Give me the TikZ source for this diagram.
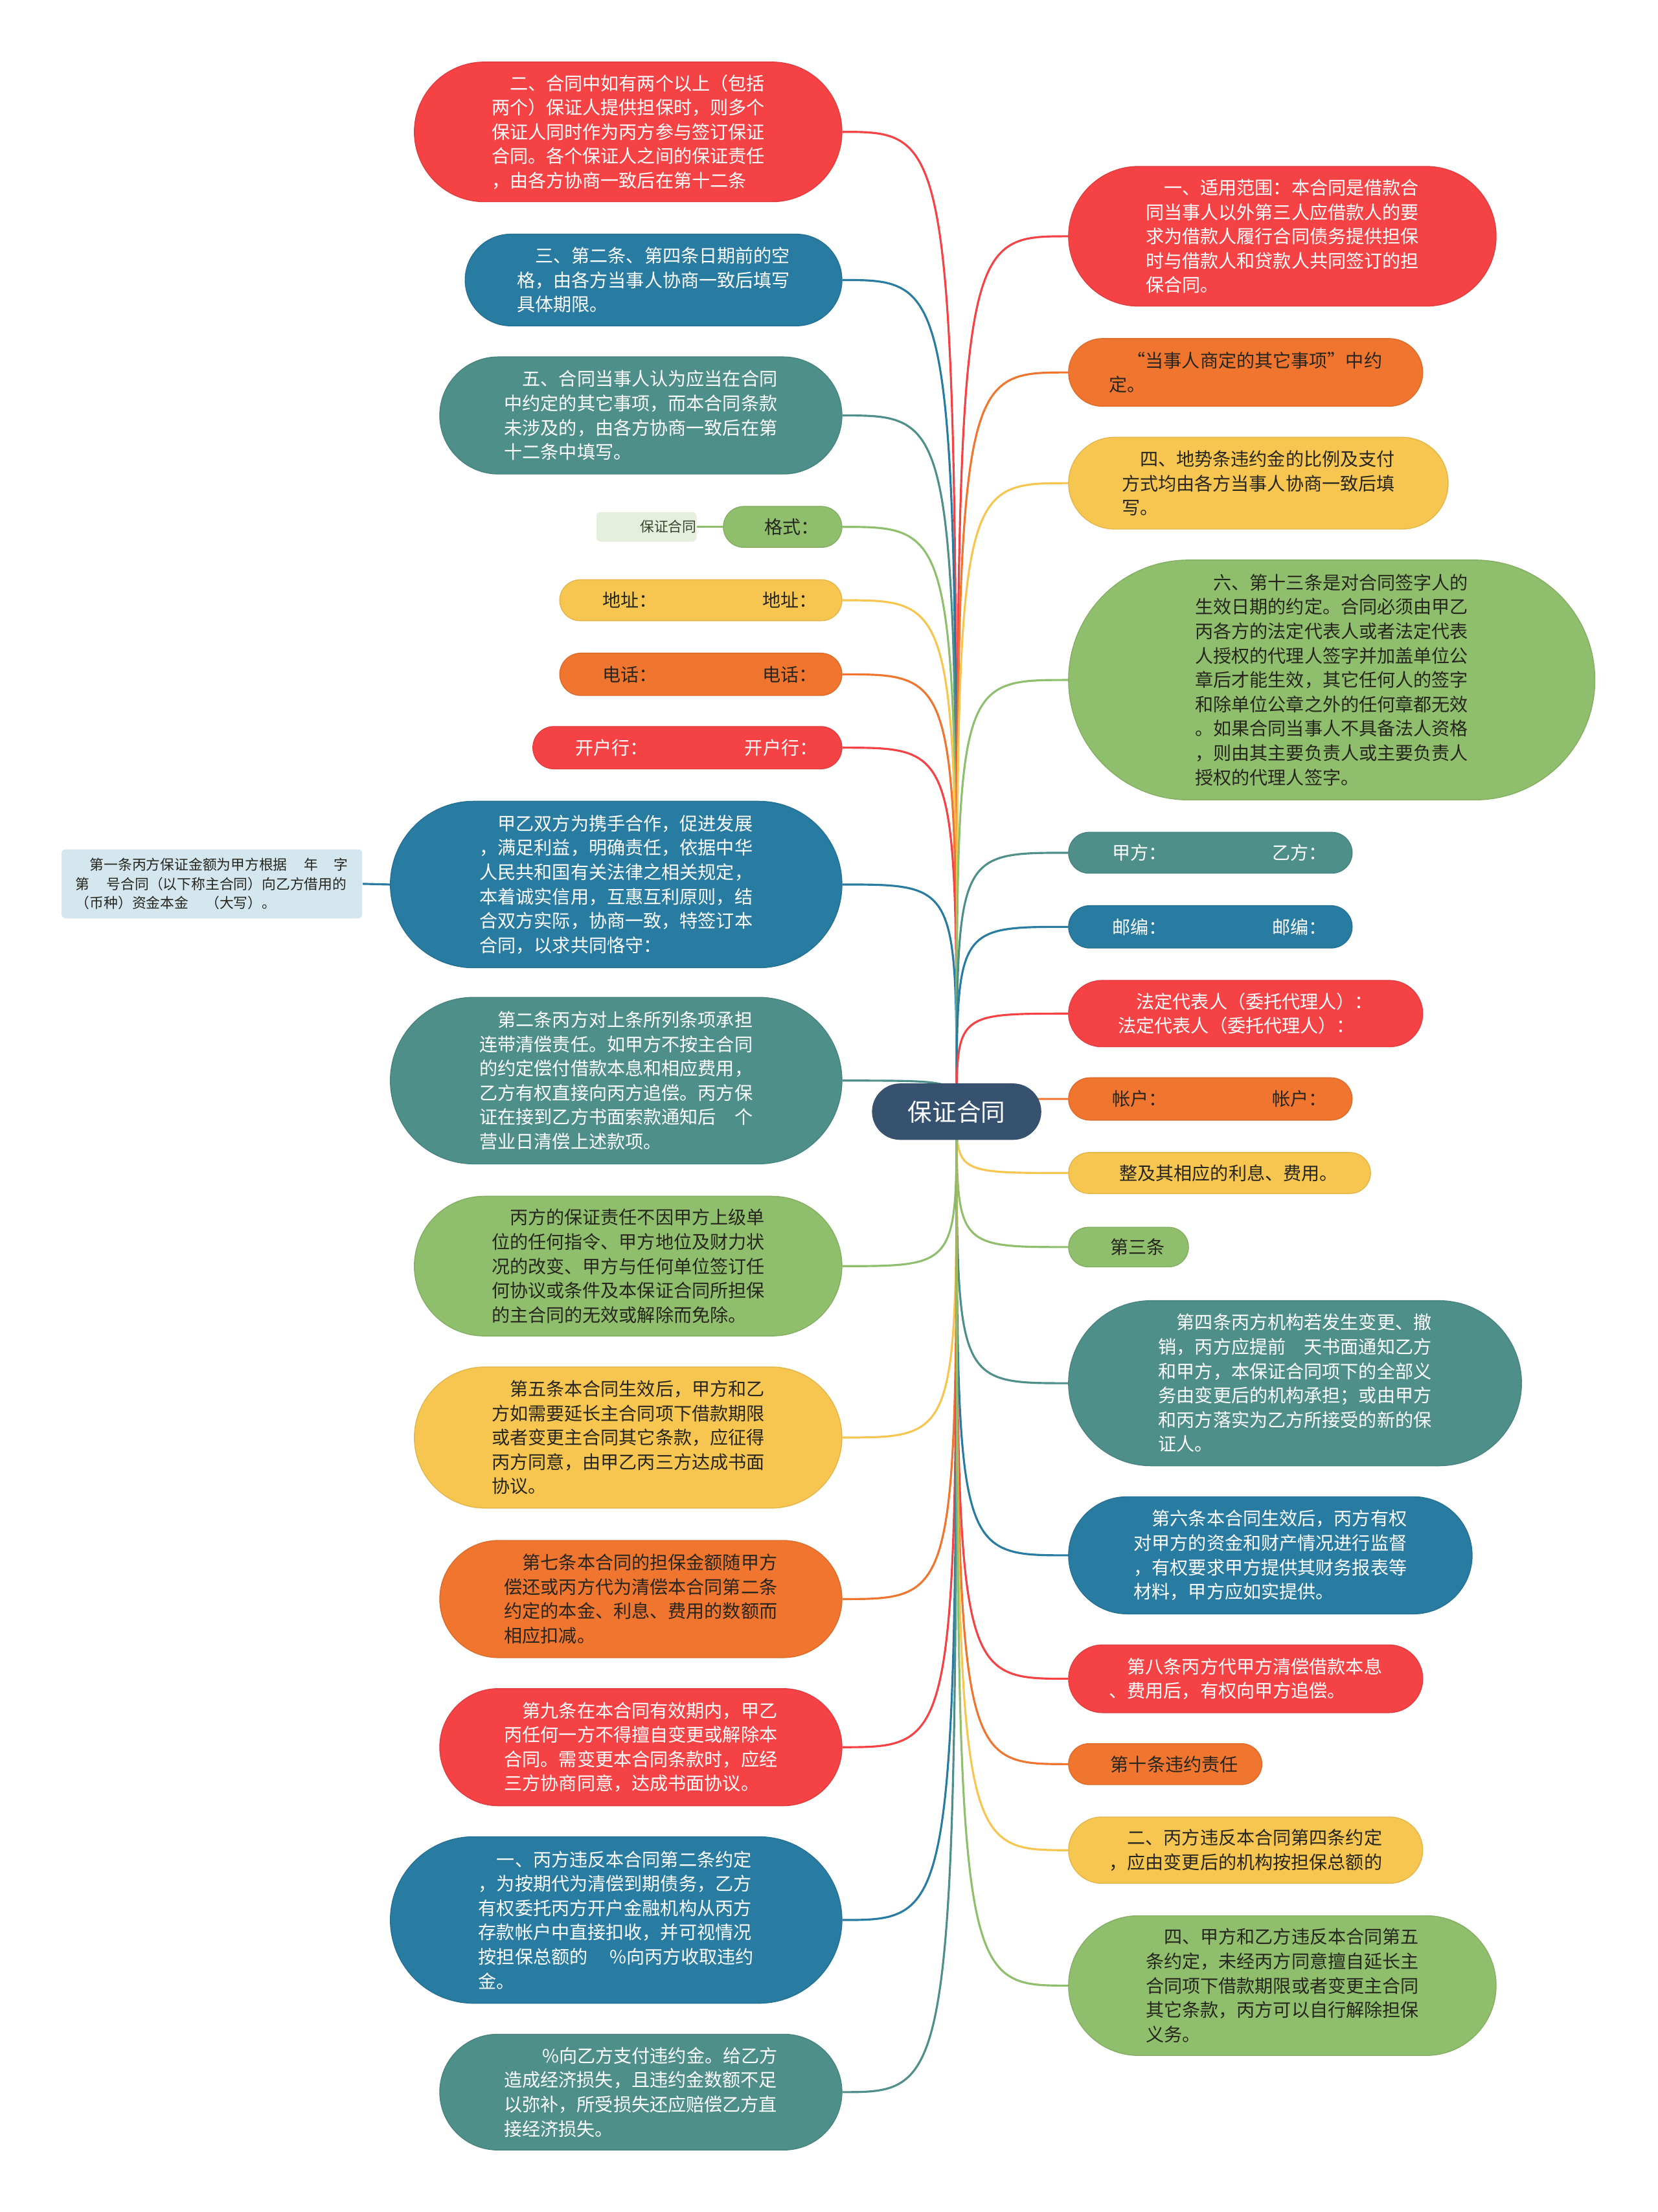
\documentclass[tikz,border=0pt]{standalone}
\usepackage{fontspec}
\setmainfont{Noto Sans CJK SC}
\usepackage{tikz}
\usetikzlibrary{backgrounds}

\definecolor{cred}{RGB}{245,66,69}
\definecolor{cblue}{RGB}{40,123,161}
\definecolor{cteal}{RGB}{78,143,138}
\definecolor{cgreen}{RGB}{143,190,108}
\definecolor{cyellow}{RGB}{247,198,80}
\definecolor{corange}{RGB}{240,117,46}
\definecolor{ccenter}{RGB}{54,82,111}
\definecolor{cpaleblue}{RGB}{212,230,238}
\definecolor{cpalegreen}{RGB}{229,239,220}
\definecolor{cdark}{RGB}{38,38,30}

\newlength\ux
\setlength\ux{0.021787cm}

\tikzset{
    topic/.style={rectangle, align=left, inner sep=0pt, font=\fontsize{8}{10.7}\selectfont},
    sz/.style 2 args={minimum width=#1*\ux, minimum height=#2*\ux, rounded corners=#2*\ux/2},
    redbox/.style={topic, fill=cred, draw=cred!92!black, text=white},
    bluebox/.style={topic, fill=cblue, draw=cblue!92!black, text=white},
    tealbox/.style={topic, fill=cteal, draw=cteal!92!black, text=white},
    greenbox/.style={topic, fill=cgreen, draw=cgreen!92!black, text=cdark},
    yellowbox/.style={topic, fill=cyellow, draw=cyellow!92!black, text=cdark},
    orangebox/.style={topic, fill=corange, draw=corange!92!black, text=cdark},
    subbox/.style={rectangle, inner sep=0pt, rounded corners=3*\ux, font=\fontsize{6.2}{8.35}\selectfont},
    lt/.style={anchor=east},
    rt/.style={anchor=west},
    link/.style={line width=0.9pt, draw=#1}
}

\begin{document}
\begin{tikzpicture}[x=\ux, y=-\ux]
    \useasboundingbox (0,0) rectangle (1175,1568);

    \node (c) [topic, sz={120}{40}, fill=ccenter, text=white, align=center, font=\fontsize{10.7}{12}\selectfont] at (678,788) {保证合同};

    \node (l1) [redbox, lt, sz={303}{99}] at (597,93.5) {\hspace*{1em}二、合同中如有两个以上（包括\\两个）保证人提供担保时，则多个\\保证人同时作为丙方参与签订保证\\合同。各个保证人之间的保证责任\\，由各方协商一致后在第十二条};
    \node (l2) [bluebox, lt, sz={267}{65}] at (597,198.5) {\hspace*{1em}三、第二条、第四条日期前的空\\格，由各方当事人协商一致后填写\\具体期限。};
    \node (l3) [tealbox, lt, sz={285}{83}] at (597,294.5) {\hspace*{1em}五、合同当事人认为应当在合同\\中约定的其它事项，而本合同条款\\未涉及的，由各方协商一致后在第\\十二条中填写。};
    \node (l4) [greenbox, lt, sz={84}{29}] at (597,373.5) {\hspace*{1em}格式：};
    \node (l4c) [subbox, anchor=east, fill=cpalegreen, text=cdark!80!cgreen, minimum height=21*\ux, text width=71*\ux, align=right] at (494,373.5) {保证合同};
    \node (l5) [yellowbox, lt, sz={200}{29}] at (597,425.5) {\hspace*{1em}地址：\hspace{5.8em}地址：};
    \node (l6) [orangebox, lt, sz={200}{30}] at (597,478) {\hspace*{1em}电话：\hspace{5.8em}电话：};
    \node (l7) [redbox, lt, sz={219}{30}] at (597,530) {\hspace*{1em}开户行：\hspace{5.3em}开户行：};
    \node (l8) [bluebox, lt, sz={320}{118}] at (597,627) {\hspace*{1em}甲乙双方为携手合作，促进发展\\，满足利益，明确责任，依据中华\\人民共和国有关法律之相关规定，\\本着诚实信用，互惠互利原则，结\\合双方实际，协商一致，特签订本\\合同，以求共同恪守：};
    \node (l8c) [subbox, anchor=east, fill=cpaleblue, text=cdark, minimum width=213*\ux, minimum height=49*\ux, align=left] at (257,626.5) {\hspace*{1em}第一条丙方保证金额为甲方根据\hspace{1.2em}年\hspace{1.1em}字\\第\hspace{1.2em}号合同（以下称主合同）向乙方借用的\\（币种）资金本金\hspace{1.2em}（大写）。};
    \node (l9) [tealbox, lt, sz={320}{118}] at (597,766) {\hspace*{1em}第二条丙方对上条所列条项承担\\连带清偿责任。如甲方不按主合同\\的约定偿付借款本息和相应费用，\\乙方有权直接向丙方追偿。丙方保\\证在接到乙方书面索款通知后\hspace{1em}个\\营业日清偿上述款项。};
    \node (l10) [greenbox, lt, sz={303}{99}] at (597,897.5) {\hspace*{1em}丙方的保证责任不因甲方上级单\\位的任何指令、甲方地位及财力状\\况的改变、甲方与任何单位签订任\\何协议或条件及本保证合同所担保\\的主合同的无效或解除而免除。};
    \node (l11) [yellowbox, lt, sz={303}{100}] at (597,1019) {\hspace*{1em}第五条本合同生效后，甲方和乙\\方如需要延长主合同项下借款期限\\或者变更主合同其它条款，应征得\\丙方同意，由甲乙丙三方达成书面\\协议。};
    \node (l12) [orangebox, lt, sz={285}{83}] at (597,1133.5) {\hspace*{1em}第七条本合同的担保金额随甲方\\偿还或丙方代为清偿本合同第二条\\约定的本金、利息、费用的数额而\\相应扣减。};
    \node (l13) [redbox, lt, sz={285}{83}] at (597,1238.5) {\hspace*{1em}第九条在本合同有效期内，甲乙\\丙任何一方不得擅自变更或解除本\\合同。需变更本合同条款时，应经\\三方协商同意，达成书面协议。};
    \node (l14) [bluebox, lt, sz={320}{118}] at (597,1361) {\hspace*{1em}一、丙方违反本合同第二条约定\\，为按期代为清偿到期债务，乙方\\有权委托丙方开户金融机构从丙方\\存款帐户中直接扣收，并可视情况\\按担保总额的\hspace{1.2em}\%向丙方收取违约\\金。};
    \node (l15) [tealbox, lt, sz={285}{82}] at (597,1483) {\hspace*{2.1em}\%向乙方支付违约金。给乙方\\造成经济损失，且违约金数额不足\\以弥补，所受损失还应赔偿乙方直\\接经济损失。};

    \node (r1) [redbox, rt, sz={303}{99}] at (757,167.5) {\hspace*{1em}一、适用范围：本合同是借款合\\同当事人以外第三人应借款人的要\\求为借款人履行合同债务提供担保\\时与借款人和贷款人共同签订的担\\保合同。};
    \node (r2) [orangebox, rt, sz={251}{48}] at (757,264) {\hspace*{1em}“当事人商定的其它事项”中约\\定。};
    \node (r3) [yellowbox, rt, sz={269}{65}] at (757,342.5) {\hspace*{1em}四、地势条违约金的比例及支付\\方式均由各方当事人协商一致后填\\写。};
    \node (r4) [greenbox, rt, sz={373}{170}] at (757,482) {\hspace*{1em}六、第十三条是对合同签字人的\\生效日期的约定。合同必须由甲乙\\丙各方的法定代表人或者法定代表\\人授权的代理人签字并加盖单位公\\章后才能生效，其它任何人的签字\\和除单位公章之外的任何章都无效\\。如果合同当事人不具备法人资格\\，则由其主要负责人或主要负责人\\授权的代理人签字。};
    \node (r5) [tealbox, rt, sz={201}{29}] at (757,604.5) {\hspace*{1em}甲方：\hspace{5.8em}乙方：};
    \node (r6) [bluebox, rt, sz={201}{30}] at (757,657) {\hspace*{1em}邮编：\hspace{5.8em}邮编：};
    \node (r7) [redbox, rt, sz={251}{47}] at (757,718.5) {\hspace*{1em}法定代表人（委托代理人）：\\法定代表人（委托代理人）：};
    \node (r8) [orangebox, rt, sz={201}{30}] at (757,779) {\hspace*{1em}帐户：\hspace{5.8em}帐户：};
    \node (r9) [yellowbox, rt, sz={214}{29}] at (757,831.5) {\hspace*{1em}整及其相应的利息、费用。};
    \node (r10) [greenbox, rt, sz={85}{28}] at (757,884) {\hspace*{1em}第三条};
    \node (r11) [tealbox, rt, sz={321}{117}] at (757,980.5) {\hspace*{1em}第四条丙方机构若发生变更、撤\\销，丙方应提前\hspace{1em}天书面通知乙方\\和甲方，本保证合同项下的全部义\\务由变更后的机构承担；或由甲方\\和丙方落实为乙方所接受的新的保\\证人。};
    \node (r12) [bluebox, rt, sz={286}{83}] at (757,1102.5) {\hspace*{1em}第六条本合同生效后，丙方有权\\对甲方的资金和财产情况进行监督\\，有权要求甲方提供其财务报表等\\材料，甲方应如实提供。};
    \node (r13) [redbox, rt, sz={251}{48}] at (757,1190) {\hspace*{1em}第八条丙方代甲方清偿借款本息\\、费用后，有权向甲方追偿。};
    \node (r14) [orangebox, rt, sz={137}{29}] at (757,1250.5) {\hspace*{1em}第十条违约责任};
    \node (r15) [yellowbox, rt, sz={251}{47}] at (757,1311.5) {\hspace*{1em}二、丙方违反本合同第四条约定\\，应由变更后的机构按担保总额的};
    \node (r16) [greenbox, rt, sz={303}{99}] at (757,1407.5) {\hspace*{1em}四、甲方和乙方违反本合同第五\\条约定，未经丙方同意擅自延长主\\合同项下借款期限或者变更主合同\\其它条款，丙方可以自行解除担保\\义务。};

    \begin{scope}[on background layer]
        \fill [white] (0,0) rectangle (1175,1568);
        \draw [link=cred] (c.center) .. controls (c.center |- l1.east) .. (l1.east);
        \draw [link=cblue] (c.center) .. controls (c.center |- l2.east) .. (l2.east);
        \draw [link=cteal] (c.center) .. controls (c.center |- l3.east) .. (l3.east);
        \draw [link=cgreen] (c.center) .. controls (c.center |- l4.east) .. (l4.east);
        \draw [link=cgreen] (l4.west) -- (l4c.east);
        \draw [link=cyellow] (c.center) .. controls (c.center |- l5.east) .. (l5.east);
        \draw [link=corange] (c.center) .. controls (c.center |- l6.east) .. (l6.east);
        \draw [link=cred] (c.center) .. controls (c.center |- l7.east) .. (l7.east);
        \draw [link=cblue] (c.center) .. controls (c.center |- l8.east) .. (l8.east);
        \draw [link=cblue] (l8.west) -- (l8c.east);
        \draw [link=cteal] (c.center) .. controls (c.center |- l9.east) .. (l9.east);
        \draw [link=cgreen] (c.center) .. controls (c.center |- l10.east) .. (l10.east);
        \draw [link=cyellow] (c.center) .. controls (c.center |- l11.east) .. (l11.east);
        \draw [link=corange] (c.center) .. controls (c.center |- l12.east) .. (l12.east);
        \draw [link=cred] (c.center) .. controls (c.center |- l13.east) .. (l13.east);
        \draw [link=cblue] (c.center) .. controls (c.center |- l14.east) .. (l14.east);
        \draw [link=cteal] (c.center) .. controls (c.center |- l15.east) .. (l15.east);
        \draw [link=cred] (c.center) .. controls (c.center |- r1.west) .. (r1.west);
        \draw [link=corange] (c.center) .. controls (c.center |- r2.west) .. (r2.west);
        \draw [link=cyellow] (c.center) .. controls (c.center |- r3.west) .. (r3.west);
        \draw [link=cgreen] (c.center) .. controls (c.center |- r4.west) .. (r4.west);
        \draw [link=cteal] (c.center) .. controls (c.center |- r5.west) .. (r5.west);
        \draw [link=cblue] (c.center) .. controls (c.center |- r6.west) .. (r6.west);
        \draw [link=cred] (c.center) .. controls (c.center |- r7.west) .. (r7.west);
        \draw [link=corange] (c.center) .. controls (c.center |- r8.west) .. (r8.west);
        \draw [link=cyellow] (c.center) .. controls (c.center |- r9.west) .. (r9.west);
        \draw [link=cgreen] (c.center) .. controls (c.center |- r10.west) .. (r10.west);
        \draw [link=cteal] (c.center) .. controls (c.center |- r11.west) .. (r11.west);
        \draw [link=cblue] (c.center) .. controls (c.center |- r12.west) .. (r12.west);
        \draw [link=cred] (c.center) .. controls (c.center |- r13.west) .. (r13.west);
        \draw [link=corange] (c.center) .. controls (c.center |- r14.west) .. (r14.west);
        \draw [link=cyellow] (c.center) .. controls (c.center |- r15.west) .. (r15.west);
        \draw [link=cgreen] (c.center) .. controls (c.center |- r16.west) .. (r16.west);
    \end{scope}
\end{tikzpicture}
\end{document}
